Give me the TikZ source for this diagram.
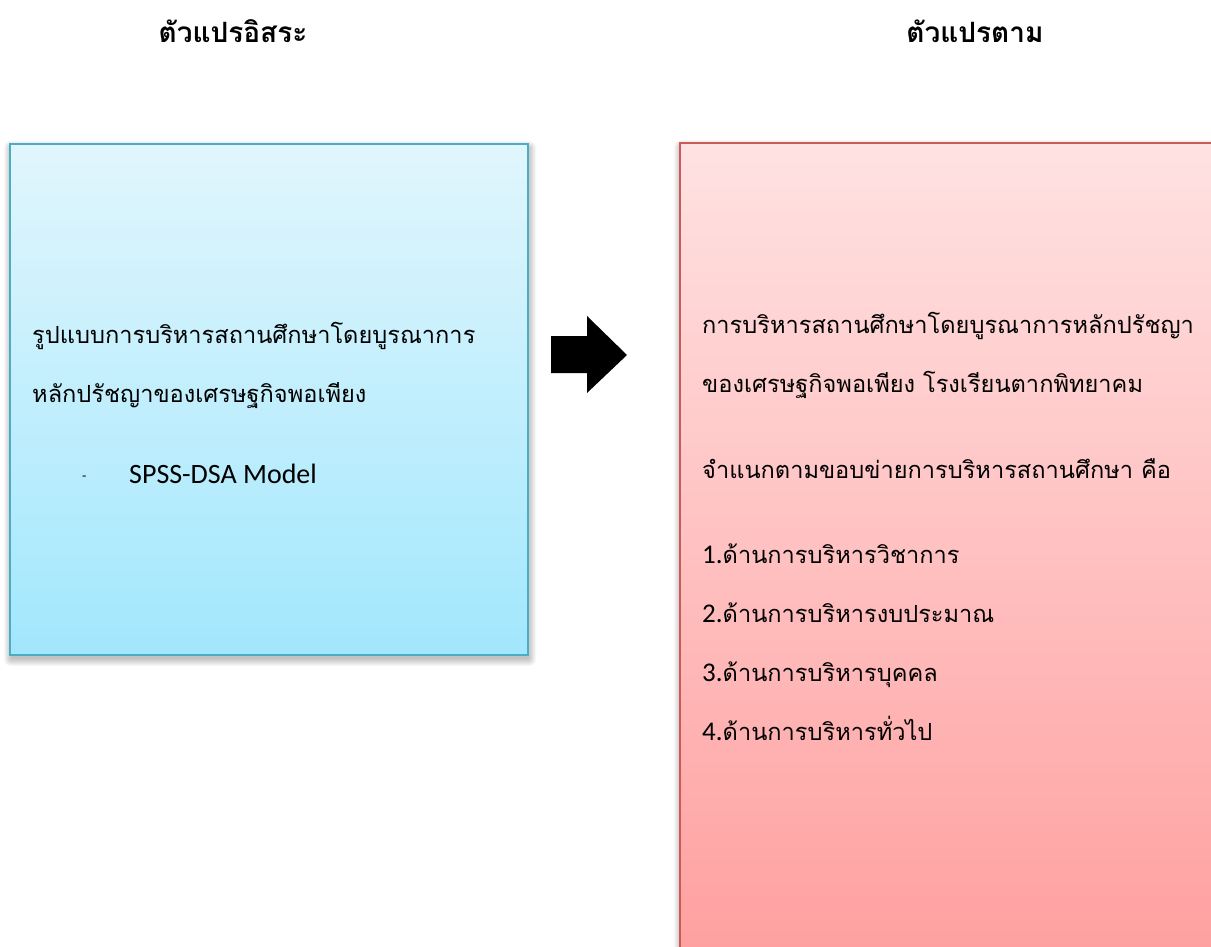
\documentclass[tikz,border=0pt]{standalone}
\usepackage{fontspec}
\setmainfont{Carlito}
\newfontfamily\thai[Script=Thai]{Loma}
\newfontfamily\lat{Carlito}
\definecolor{bluetop}{HTML}{E1F6FD}
\definecolor{bluebot}{HTML}{A2E7FD}
\definecolor{blueedge}{HTML}{4BACC6}
\definecolor{redtop}{HTML}{FFE2E2}
\definecolor{redbot}{HTML}{FF9C9C}
\definecolor{rededge}{HTML}{CC5B58}
\newcommand{\num}[1]{{\lat\fontsize{27}{32}\selectfont #1}}
\newcommand{\softshadow}[4]{%
  \foreach \r in {7,6,5,4,3,2,1,0}{%
    \fill[black, opacity=0.03, rounded corners=\r pt]
      ({#1+1-\r},{#2+4-\r}) rectangle ({#3+1+\r},{#4+4+\r});
  }%
}
\tikzset{
  title/.style={font=\thai\bfseries\fontsize{28}{32}\selectfont, anchor=base, inner sep=0pt},
  body/.style={font=\thai\fontsize{23.6}{28}\selectfont, anchor=base west, inner sep=0pt},
  latin/.style={font=\lat\fontsize{28}{32}\selectfont, anchor=base west, inner sep=0pt},
  bluebox/.style={draw=blueedge, line width=2pt, top color=bluetop, bottom color=bluebot},
  redbox/.style={draw=rededge, line width=2pt, top color=redtop, bottom color=redbot},
}
\begin{document}
\begin{tikzpicture}[x=1pt,y=-1pt]
\clip (0,0) rectangle (1211,947);
\fill[white] (0,0) rectangle (1211,947);
% titles
\node[title] (t1) at (233,43) {ตัวแปรอิสระ};
\node[title] (t2) at (975,43) {ตัวแปรตาม};
% left box
\softshadow{10}{144}{528}{655}
\path[bluebox] (10,144) rectangle (528,655);
\node[body] (l1) at (32,343) {รูปแบบการบริหารสถานศึกษาโดยบูรณาการ};
\node[body] (l2) at (32,402) {หลักปรัชญาของเศรษฐกิจพอเพียง};
\node[latin] (dash) at (82,480) {\fontsize{14}{16}\selectfont -};
\node[latin] (spss) at (129,483) {SPSS-DSA Model};
% arrow
\fill[black] (551,336) -- (587,336) -- (587,316) -- (627,355) -- (587,393) -- (587,373) -- (551,373) -- cycle;
% right box
\softshadow{680}{143}{1240}{1000}
\path[redbox] (680,143) rectangle (1240,1000);
\node[body] (r1) at (702,333) {การบริหารสถานศึกษาโดยบูรณาการหลักปรัชญา};
\node[body] (r2) at (702,392) {ของเศรษฐกิจพอเพียง โรงเรียนตากพิทยาคม};
\node[body] (r3) at (702,478) {จำแนกตามขอบข่ายการบริหารสถานศึกษา คือ};
\node[body] (i1) at (702,563) {\num{1.}ด้านการบริหารวิชาการ};
\node[body] (i2) at (702,622) {\num{2.}ด้านการบริหารงบประมาณ};
\node[body] (i3) at (702,681) {\num{3.}ด้านการบริหารบุคคล};
\node[body] (i4) at (702,740) {\num{4.}ด้านการบริหารทั่วไป};
\end{tikzpicture}
\end{document}
